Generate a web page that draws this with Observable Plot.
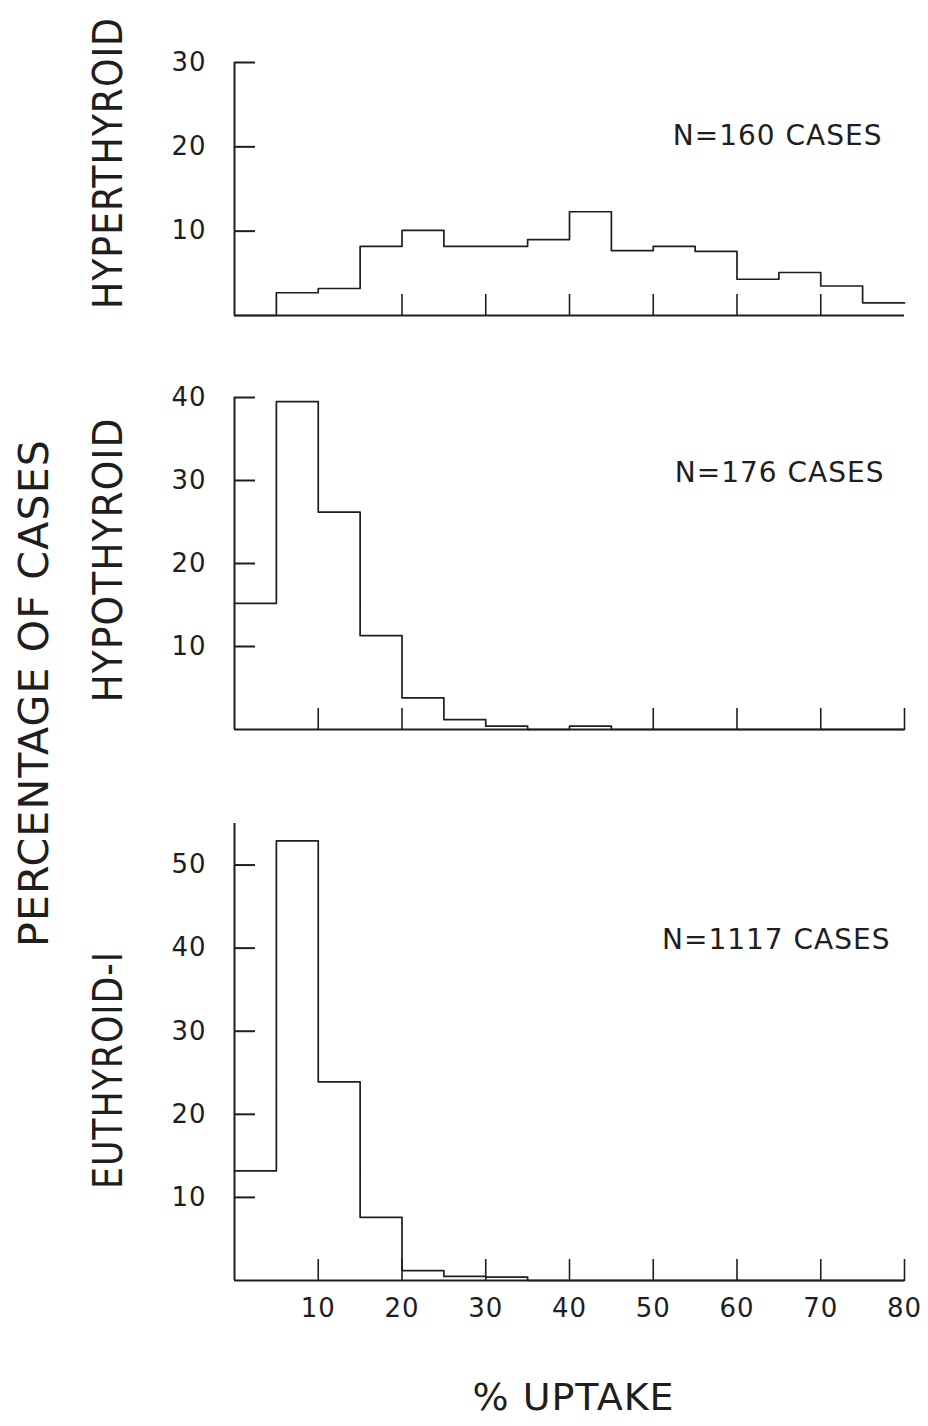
<!DOCTYPE html>
<html><head><meta charset="utf-8">
<script src="https://cdn.jsdelivr.net/npm/d3@7"></script>
<script src="https://cdn.jsdelivr.net/npm/@observablehq/plot@0.6"></script>
<style>
html,body{margin:0;padding:0;background:#fff;}
#fig{position:relative;width:928px;height:1426px;overflow:hidden;background:#fff;}
#fig svg{position:absolute;left:0;margin:0;background:transparent;}
#fig svg text{letter-spacing:1px;}
</style></head><body><div id="fig"></div>
<script>
// ---- data ----
const binStarts = [0, 5, 10, 15, 20, 25, 30, 35, 40, 45, 50, 55, 60, 65, 70, 75];
const binEnd = 80;
const hyperthyroid = [0, 2.7, 3.2, 8.2, 10.1, 8.2, 8.2, 9.0, 12.3, 7.7, 8.2, 7.6, 4.3, 5.1, 3.5, 1.5];
const hypothyroid  = [15.2, 39.5, 26.2, 11.3, 3.8, 1.2, 0.4, 0, 0.4, 0, 0, 0, 0, 0, 0, 0];
const euthyroid    = [13.2, 52.9, 23.9, 7.6, 1.2, 0.5, 0.4, 0, 0, 0, 0, 0, 0, 0, 0, 0];
const panelNames = ["HYPERTHYROID", "HYPOTHYROID", "EUTHYROID-I"];
const caseNotes = ["N=160 CASES", "N=176 CASES", "N=1117 CASES"];
const yTicksTop = [10, 20, 30];
const yTicksMid = [10, 20, 30, 40];
const yTicksBot = [10, 20, 30, 40, 50];
const xTicksTop = [20, 30, 40, 50, 60, 70];
const xTicksMid = [10, 20, 50, 60, 70, 80];
const xTicksBot = [10, 20, 30, 40, 50, 60, 70, 80];
const xTickLabels = [10, 20, 30, 40, 50, 60, 70, 80];
const yAxisTitle = "PERCENTAGE OF CASES";
const xAxisTitle = "% UPTAKE";

const ink = "#1e1e1e";
const font = "DejaVu Sans, sans-serif";

function stepData(values) {
  const d = binStarts.map((x, i) => ({x, y: values[i]}));
  d.push({x: binEnd, y: values[values.length - 1]});
  return d;
}

const panels = [
  {values: hyperthyroid, note: caseNotes[0], yMax: 30, yTicks: yTicksTop, xTicks: xTicksTop,
   top: 0, height: 330, marginTop: 62, marginBottom: 15, noteDx: -22, noteDy: 74, bottom: false},
  {values: hypothyroid, note: caseNotes[1], yMax: 40, yTicks: yTicksMid, xTicks: xTicksMid,
   top: 340, height: 400, marginTop: 57, marginBottom: 11, noteDx: -20, noteDy: 76, bottom: false},
  {values: euthyroid, note: caseNotes[2], yMax: 55, yTicks: yTicksBot, xTicks: xTicksBot,
   top: 760, height: 666, marginTop: 63, marginBottom: 146, noteDx: -14, noteDy: 117, bottom: true}
];

const fig = document.getElementById("fig");

for (const p of panels) {
  const marks = [
    Plot.ruleX([0], {stroke: ink, strokeWidth: 2}),
    Plot.ruleY([0], {stroke: ink, strokeWidth: 2}),
    Plot.axisY({ticks: p.yTicks, tickSize: -21, fill: "none", label: null, stroke: ink, strokeWidth: 2}),
    Plot.axisY({ticks: p.yTicks, tickSize: 0, tickPadding: 28, fontSize: 26, fontFamily: font, label: null, fill: ink}),
    Plot.axisX({ticks: p.xTicks, tickSize: -21, fill: "none", label: null, stroke: ink, strokeWidth: 1.6}),
    Plot.line(stepData(p.values), {x: "x", y: "y", curve: "step-after", stroke: ink, strokeWidth: 1.7}),
    Plot.text([p.note], {frameAnchor: "top-right", textAnchor: "end", lineAnchor: "middle",
      dx: p.noteDx, dy: p.noteDy, fontSize: 28, fontFamily: font, fill: ink})
  ];
  if (p.bottom) {
    marks.push(Plot.axisX({ticks: xTickLabels, tickSize: 0, tickPadding: 18, fontSize: 26, fontFamily: font, label: null, fill: ink}));
    marks.push(Plot.text([xAxisTitle], {frameAnchor: "bottom", lineAnchor: "middle", dx: 4, dy: 117,
      fontSize: 38, fontFamily: font, fill: ink}));
  }
  const svg = Plot.plot({
    width: 928, height: p.height,
    marginLeft: 234, marginRight: 24, marginTop: p.marginTop, marginBottom: p.marginBottom,
    style: {fontFamily: font, color: ink, background: "transparent"},
    x: {domain: [0, binEnd]},
    y: {domain: [0, p.yMax]},
    marks
  });
  svg.style.top = p.top + "px";
  fig.appendChild(svg);
}

// rotated axis titles
const rotated = [
  {text: panelNames[0], x: 122, y: 163, len: 292},
  {text: panelNames[1], x: 122, y: 560, len: 285},
  {text: panelNames[2], x: 122, y: 1070, len: 238},
  {text: yAxisTitle, x: 48, y: 693, len: 508}
];
const overlay = d3.create("svg")
  .attr("width", 928).attr("height", 1426)
  .style("top", "0px").style("pointer-events", "none");
overlay.selectAll("text").data(rotated).join("text")
  .attr("transform", d => `translate(${d.x},${d.y}) rotate(-90)`)
  .attr("text-anchor", "middle")
  .attr("textLength", d => d.len)
  .attr("lengthAdjust", "spacingAndGlyphs")
  .attr("font-size", 40)
  .attr("font-family", "DejaVu Sans Condensed, DejaVu Sans, sans-serif")
  .attr("fill", ink)
  .text(d => d.text);
fig.appendChild(overlay.node());
</script>
</body></html>
